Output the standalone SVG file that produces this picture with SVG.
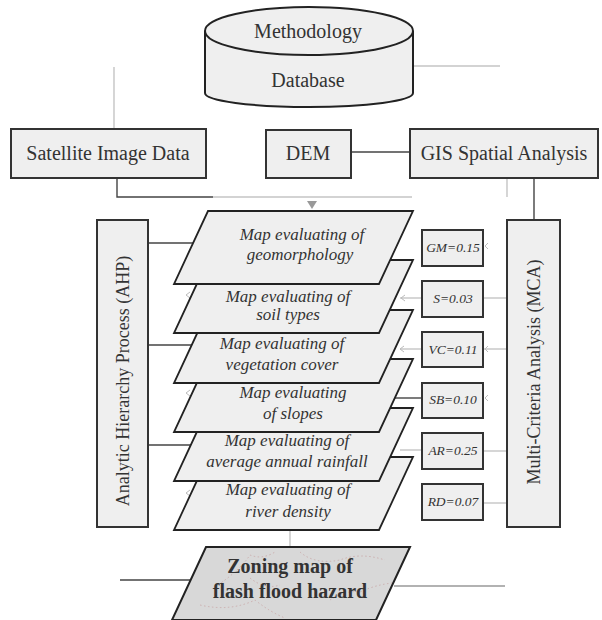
<svg xmlns="http://www.w3.org/2000/svg" width="602" height="620" viewBox="0 0 602 620">
<style>
.box{fill:#efefef;stroke:#333;stroke-width:2}
.para{fill:#efefef;stroke:#222;stroke-width:1.8}
.t{font-family:"Liberation Serif","Times New Roman",serif;fill:#333;text-anchor:middle}
.n{font-size:20px}
.i{font-size:17px;font-style:italic}
.w{font-size:13.5px;font-style:italic}
.dk{stroke:#444;stroke-width:1.4;fill:none}
.lt{stroke:#c4c4c4;stroke-width:1.4;fill:none}
.ah{stroke:#bbb;stroke-width:1;fill:none}
</style>
<rect width="602" height="620" fill="#fff"/>
<g id="connectors">
<line class="lt" x1="413" y1="66" x2="500" y2="66"/>
<line class="lt" x1="114" y1="67" x2="114" y2="128"/>
<polyline class="dk" points="117,177 117,197 213,197"/>
<line class="lt" x1="213" y1="197" x2="412" y2="197"/>
<polygon points="307,201 317,201 312,209" fill="#999"/>
<line class="dk" x1="304" y1="152" x2="410" y2="152"/>
<line class="lt" x1="507" y1="178" x2="507" y2="197"/>
<line class="dk" x1="534" y1="178" x2="534" y2="220"/>
<line class="dk" x1="148" y1="243" x2="194" y2="243"/>
<line class="dk" x1="148" y1="345" x2="192" y2="345"/>
<line class="dk" x1="148" y1="445" x2="191" y2="445"/>
<polyline class="ah" points="190,292 186,295 190,298"/>
<polyline class="ah" points="190,390 186,393 190,396"/>
<polyline class="ah" points="190,490 186,493 190,496"/>
<line class="lt" x1="400" y1="298" x2="422" y2="298"/>
<line class="lt" x1="483" y1="298" x2="507" y2="298"/>
<polyline class="ah" points="405,295 401,298 405,301"/>
<line class="lt" x1="400" y1="349" x2="422" y2="349"/>
<line class="lt" x1="483" y1="349" x2="507" y2="349"/>
<polyline class="ah" points="404,346 400,349 404,352"/>
<polyline class="ah" points="488,346 485,349 488,352"/>
<polyline class="ah" points="488,243 485,246 488,249"/>
<line class="dk" x1="394" y1="398" x2="422" y2="398"/>
<polyline class="ah" points="488,395 485,398 488,401"/>
<line class="lt" x1="400" y1="450" x2="421" y2="450"/>
<line class="lt" x1="483" y1="451" x2="507" y2="451"/>
<line class="lt" x1="483" y1="503" x2="507" y2="503"/>
<line class="lt" x1="290" y1="531" x2="290" y2="546"/>
<line class="dk" x1="120" y1="580" x2="190" y2="580"/>
<line x1="394" y1="586" x2="505" y2="586" stroke="#999" stroke-width="1.4"/>
</g>
<g id="database">
<path d="M205,31 L205,93 A104,14 0 0 0 413,93 L413,31" fill="#efefef" stroke="#222" stroke-width="2"/>
<ellipse cx="309" cy="31" rx="104" ry="24" fill="#efefef" stroke="#222" stroke-width="2"/>
<text class="t n" x="308" y="38">Methodology</text>
<text class="t n" x="308" y="87">Database</text>
</g>
<g id="satellite">
<rect class="box" x="11" y="129" width="195" height="49"/>
<text class="t n" x="108" y="160">Satellite Image Data</text>
</g>
<g id="dem">
<rect class="box" x="266" y="130" width="85" height="48"/>
<text class="t n" x="308" y="160">DEM</text>
</g>
<g id="gis">
<rect class="box" x="410" y="129" width="188" height="49"/>
<text class="t n" x="504" y="160">GIS Spatial Analysis</text>
</g>
<g id="ahp">
<rect class="box" x="97" y="220" width="51" height="307"/>
<text class="t" font-size="18" transform="translate(129,381) rotate(-90)">Analytic Hierarchy Process (AHP)</text>
</g>
<g id="mca">
<rect class="box" x="507" y="220" width="53" height="307"/>
<text class="t" font-size="18" transform="translate(540,372) rotate(-90)">Multi-Criteria Analysis (MCA)</text>
</g>
<g id="map-river">
<polygon class="para" points="208,457 413,457 379,530 174,530"/>
<text class="t i" x="288" y="495">Map evaluating of</text>
<text class="t i" x="288" y="517">river density</text>
</g>
<g id="map-rainfall">
<polygon class="para" points="208,408 413,408 379,481 174,481"/>
<text class="t i" x="287" y="446">Map evaluating of</text>
<text class="t i" x="287" y="467">average annual rainfall</text>
</g>
<g id="map-slopes">
<polygon class="para" points="208,359 413,359 379,432 174,432"/>
<text class="t i" x="293" y="398">Map evaluating</text>
<text class="t i" x="293" y="419">of slopes</text>
</g>
<g id="map-vegetation">
<polygon class="para" points="208,310 413,310 379,383 174,383"/>
<text class="t i" x="282" y="349">Map evaluating of</text>
<text class="t i" x="282" y="370">vegetation cover</text>
</g>
<g id="map-soil">
<polygon class="para" points="208,260 413,260 379,333 174,333"/>
<text class="t i" x="288" y="302">Map evaluating of</text>
<text class="t i" x="288" y="320">soil types</text>
</g>
<g id="map-geomorphology">
<polygon class="para" points="208,211 413,211 379,284 174,284"/>
<text class="t i" x="302" y="240">Map evaluating of</text>
<text class="t i" x="300" y="260">geomorphology</text>
</g>
<g id="gm">
<rect class="box" x="422" y="230" width="61" height="36"/>
<text class="t w" x="453" y="252">GM=0.15</text>
</g>
<g id="s">
<rect class="box" x="422" y="281" width="61" height="36"/>
<text class="t w" x="453" y="303">S=0.03</text>
</g>
<g id="vc">
<rect class="box" x="422" y="332" width="61" height="35"/>
<text class="t w" x="453" y="354">VC=0.11</text>
</g>
<g id="sb">
<rect class="box" x="422" y="383" width="61" height="35"/>
<text class="t w" x="453" y="404">SB=0.10</text>
</g>
<g id="ar">
<rect class="box" x="422" y="433" width="61" height="36"/>
<text class="t w" x="453" y="455">AR=0.25</text>
</g>
<g id="rd">
<rect class="box" x="422" y="484" width="61" height="36"/>
<text class="t w" x="453" y="506">RD=0.07</text>
</g>
<g id="zoning">
<polygon points="206,547 410,547 376,620 172,620" fill="#d8d8d8" stroke="#222" stroke-width="2"/>
<g fill="none" stroke="#c8a4a4" stroke-width="0.8" stroke-dasharray="1.5,2.5">
<path d="M218,585 Q240,570 250,555 Q262,560 275,552"/>
<path d="M300,552 Q315,565 340,560 Q360,552 385,560"/>
<path d="M200,605 Q230,612 255,600 Q270,612 285,618"/>
<path d="M330,600 Q345,590 360,592 Q375,585 392,583"/>
<path d="M250,578 Q265,590 280,585"/>
</g>
<text class="t" font-size="20" font-weight="bold" x="290" y="573">Zoning map of</text>
<text class="t" font-size="20" font-weight="bold" x="290" y="598">flash flood hazard</text>
</g>
</svg>
